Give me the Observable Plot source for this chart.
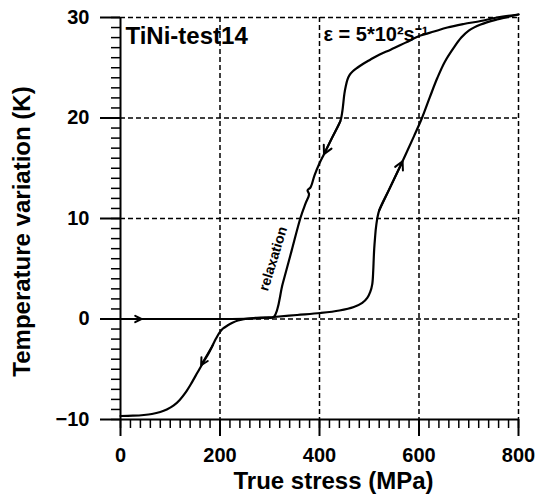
<!DOCTYPE html>
<html>
<head>
<meta charset="utf-8">
<script src="https://cdn.jsdelivr.net/npm/d3@7"></script>
<script src="https://cdn.jsdelivr.net/npm/@observablehq/plot@0.6"></script>
<style>
  html, body { margin: 0; padding: 0; background: white; }
</style>
</head>
<body>
<div id="chart"></div>
<script>
// ---- data ----
const loadStress = [0, 100, 200, 250, 280, 308, 355, 402, 440, 469, 486, 496, 502, 506, 508, 509, 510, 511.5, 514, 520, 540, 566, 590, 606, 622, 637, 652, 670, 685, 700, 724, 757, 800];
const loadTemp   = [0, 0, 0, 0.02, 0.08, 0.2, 0.4, 0.6, 0.85, 1.2, 1.6, 2.1, 2.7, 3.45, 4.8, 6, 7, 8, 9.3, 10.8, 12.9, 15.6, 18.2, 20, 22.1, 24, 25.6, 27, 28, 28.7, 29.3, 29.8, 30.3];

const unloadStress = [800, 757, 724, 690, 657, 630, 603, 573, 543, 520, 502, 488, 476, 467, 460, 456, 453, 450, 446, 442, 425, 409, 400, 390, 382, 376, 379, 372, 362, 344, 326, 308, 290, 267, 248, 236, 225, 215, 206, 199, 192, 184, 175, 166, 155, 143, 131, 119, 107, 93, 80, 63, 47, 25, 0];
const unloadTemp   = [30.3, 30.0, 29.65, 29.35, 29.0, 28.6, 28.2, 27.5, 26.8, 26.3, 25.8, 25.4, 25.0, 24.65, 24.25, 23.8, 23.2, 22.4, 20.7, 19.7, 18.0, 16.4, 15.5, 14.3, 13.1, 12.8, 12.4, 11.5, 10.1, 6.8, 3.5, 0.2, 0.15, 0.1, -0.02, -0.15, -0.38, -0.65, -0.95, -1.35, -1.95, -2.75, -3.6, -4.35, -5.3, -6.35, -7.3, -8.05, -8.6, -9.0, -9.25, -9.45, -9.55, -9.62, -9.65];

// direction arrows along the curves: from (x1,y1) to (x2,y2)
const arrowX1 = [0, 520, 442, 186];
const arrowY1 = [0, 10.8, 19.7, -2.55];
const arrowX2 = [42, 567, 409, 162];
const arrowY2 = [0, 15.7, 16.4, -4.6];

const xTicks = [0, 200, 400, 600, 800];
const yTicks = [-10, 0, 10, 20, 30];
const xGrid = [200, 400, 600, 800];
const yGrid = [0, 10, 20, 30];
const xMinor = d3.range(0, 801, 20);
const yMinor = d3.range(-10, 31, 1);

const xLabel = "True stress (MPa)";
const yLabel = "Temperature variation (K)";
const titleText = "TiNi-test14";
const rateText = "ε = 5*10²s⁻¹";
const relaxText = "relaxation";

// ---- tables ----
const loading = loadStress.map((s, i) => ({stress: s, temp: loadTemp[i]}));
const unloading = unloadStress.map((s, i) => ({stress: s, temp: unloadTemp[i]}));
const arrows = arrowX1.map((x, i) => ({x1: x, y1: arrowY1[i], x2: arrowX2[i], y2: arrowY2[i]}));

const font = "'Liberation Sans', Arial, Helvetica, sans-serif";

const chart = Plot.plot({
  width: 537,
  height: 495,
  marginLeft: 120,
  marginRight: 19,
  marginTop: 17,
  marginBottom: 76,
  x: {domain: [0, 800]},
  y: {domain: [-10, 30]},
  style: {fontFamily: font, background: "white", color: "black", overflow: "visible"},
  marks: [
    Plot.ruleX(xGrid, {stroke: "black", strokeWidth: 1.5, strokeDasharray: "5,3"}),
    Plot.ruleY(yGrid, {stroke: "black", strokeWidth: 1.5, strokeDasharray: "5,3"}),
    Plot.ruleX([0], {stroke: "black", strokeWidth: 2}),
    Plot.ruleY([-10], {stroke: "black", strokeWidth: 2}),
    Plot.axisX(xMinor, {tickSize: 9, strokeWidth: 1.5, tickFormat: () => "", label: null}),
    Plot.axisX(xTicks, {tickSize: 17, strokeWidth: 2, tickPadding: 11, fontSize: 20, fontWeight: "bold", label: null}),
    Plot.axisY(yMinor, {tickSize: 9, strokeWidth: 1.5, tickFormat: () => "", label: null}),
    Plot.axisY(yTicks, {tickSize: 20, strokeWidth: 2, tickPadding: 11, fontSize: 20, fontWeight: "bold", label: null}),
    Plot.line(loading, {x: "stress", y: "temp", stroke: "black", strokeWidth: 2.2, curve: "catmull-rom"}),
    Plot.line(unloading, {x: "stress", y: "temp", stroke: "black", strokeWidth: 2.2, curve: "catmull-rom"}),
    Plot.arrow(arrows, {x1: "x1", y1: "y1", x2: "x2", y2: "y2", stroke: "black", strokeWidth: 2, headLength: 7, headAngle: 55}),
    Plot.text([titleText], {x: 10, y: 28.1, text: d => d, textAnchor: "start", fontSize: 24, fontWeight: "bold", fill: "black"}),
    Plot.text([rateText], {x: 408, y: 28.3, text: d => d, textAnchor: "start", fontSize: 20, fontWeight: "bold", fill: "black"}),
    Plot.text([relaxText], {x: 307, y: 6, text: d => d, rotate: -73, fontSize: 14, fontWeight: "bold", fill: "black"}),
    Plot.text([xLabel], {frameAnchor: "bottom", dx: 14, dy: 52, lineAnchor: "top", text: d => d, fontSize: 24, fontWeight: "bold", fill: "black"}),
    Plot.text([yLabel], {frameAnchor: "left", dx: -98, dy: 13, rotate: -90, textAnchor: "middle", text: d => d, fontSize: 24, fontWeight: "bold", fill: "black"})
  ]
});

document.getElementById("chart").appendChild(chart);
</script>
</body>
</html>
